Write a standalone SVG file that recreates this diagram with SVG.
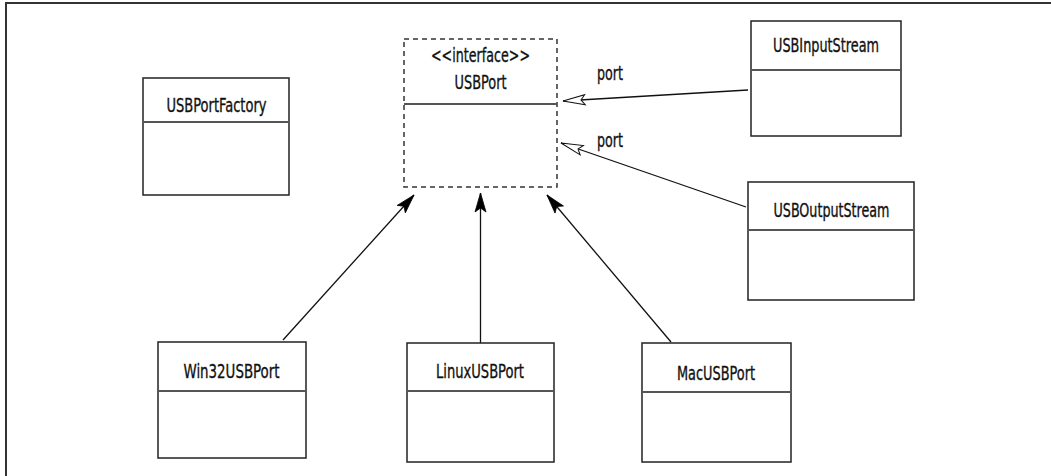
<svg xmlns="http://www.w3.org/2000/svg" width="1051" height="476" viewBox="0 0 1051 476">
<defs>
<style>
.box{fill:#fff;stroke:#222;stroke-width:1.5}
.iface{fill:#fff;stroke:#333;stroke-width:1.5;stroke-dasharray:5 4}
.div{stroke:#555;stroke-width:1.8}
.lbl{font-family:"Liberation Sans Narrow","DejaVu Sans Condensed","Liberation Sans",sans-serif;font-size:20px;fill:#111;stroke:#111;stroke-width:0.35;text-anchor:middle}
.port{font-family:"Liberation Sans Narrow","DejaVu Sans Condensed","Liberation Sans",sans-serif;font-size:20px;fill:#111;stroke:#111;stroke-width:0.35}
.gen{stroke:#111;stroke-width:1.3;fill:none;marker-end:url(#solid)}
.assoc{stroke:#111;stroke-width:1.3;fill:none;marker-end:url(#open)}
</style>
<marker id="solid" viewBox="-22 -7 24 14" refX="0" refY="0" markerWidth="24" markerHeight="14" markerUnits="userSpaceOnUse" orient="auto">
<path d="M0,0 L-19,-5.5 L-15,0 L-19,5.5 Z" fill="#000" stroke="#000" stroke-width="0.8"/>
</marker>
<marker id="open" viewBox="-24 -7 26 14" refX="0" refY="0" markerWidth="26" markerHeight="14" markerUnits="userSpaceOnUse" orient="auto">
<path d="M0,0 L-22,-5 L-18,0 L-22,5 Z" fill="#fff" stroke="#111" stroke-width="1"/>
</marker>
</defs>
<rect width="1051" height="476" fill="#fff"/>
<path d="M6,476 V3 H1051" fill="none" stroke="#333" stroke-width="2"/>

<g id="connectors">
<line class="assoc" x1="748" y1="90" x2="563" y2="101"/>
<line class="assoc" x1="746" y1="207" x2="561" y2="143"/>
<line class="gen" x1="283" y1="340" x2="414" y2="195"/>
<line class="gen" x1="480.5" y1="343" x2="480.5" y2="193"/>
<line class="gen" x1="671" y1="342" x2="547" y2="195"/>
<text class="port" x="597" y="80" textLength="26" lengthAdjust="spacingAndGlyphs">port</text>
<text class="port" x="597" y="147" textLength="26" lengthAdjust="spacingAndGlyphs">port</text>
</g>

<g id="USBPort">
<rect class="iface" x="404" y="39" width="153" height="148"/>
<line class="div" x1="404" y1="104" x2="557" y2="104"/>
<text class="lbl" x="480.5" y="62" textLength="99" lengthAdjust="spacingAndGlyphs">&lt;&lt;interface&gt;&gt;</text>
<text class="lbl" x="480.5" y="89" textLength="52" lengthAdjust="spacingAndGlyphs">USBPort</text>
</g>

<g id="USBPortFactory">
<rect class="box" x="143" y="78" width="146" height="117"/>
<line class="div" x1="143" y1="122" x2="289" y2="122"/>
<text class="lbl" x="216.5" y="112" textLength="100" lengthAdjust="spacingAndGlyphs">USBPortFactory</text>
</g>

<g id="USBInputStream">
<rect class="box" x="751" y="21" width="150" height="115"/>
<line class="div" x1="751" y1="70" x2="902" y2="70"/>
<text class="lbl" x="826" y="52" textLength="106" lengthAdjust="spacingAndGlyphs">USBInputStream</text>
</g>

<g id="USBOutputStream">
<rect class="box" x="748" y="182" width="166" height="118"/>
<line class="div" x1="748" y1="230" x2="914" y2="230"/>
<text class="lbl" x="831.5" y="217" textLength="116" lengthAdjust="spacingAndGlyphs">USBOutputStream</text>
</g>

<g id="Win32USBPort">
<rect class="box" x="158" y="342" width="148" height="116"/>
<line class="div" x1="158" y1="391" x2="306" y2="391"/>
<text class="lbl" x="231.5" y="377.5" textLength="96" lengthAdjust="spacingAndGlyphs">Win32USBPort</text>
</g>

<g id="LinuxUSBPort">
<rect class="box" x="407" y="343" width="147" height="119"/>
<line class="div" x1="407" y1="391" x2="554" y2="391"/>
<text class="lbl" x="480" y="378" textLength="88" lengthAdjust="spacingAndGlyphs">LinuxUSBPort</text>
</g>

<g id="MacUSBPort">
<rect class="box" x="642" y="343" width="149" height="119"/>
<line class="div" x1="642" y1="392" x2="791" y2="392"/>
<text class="lbl" x="716" y="380" textLength="78" lengthAdjust="spacingAndGlyphs">MacUSBPort</text>
</g>
</svg>
